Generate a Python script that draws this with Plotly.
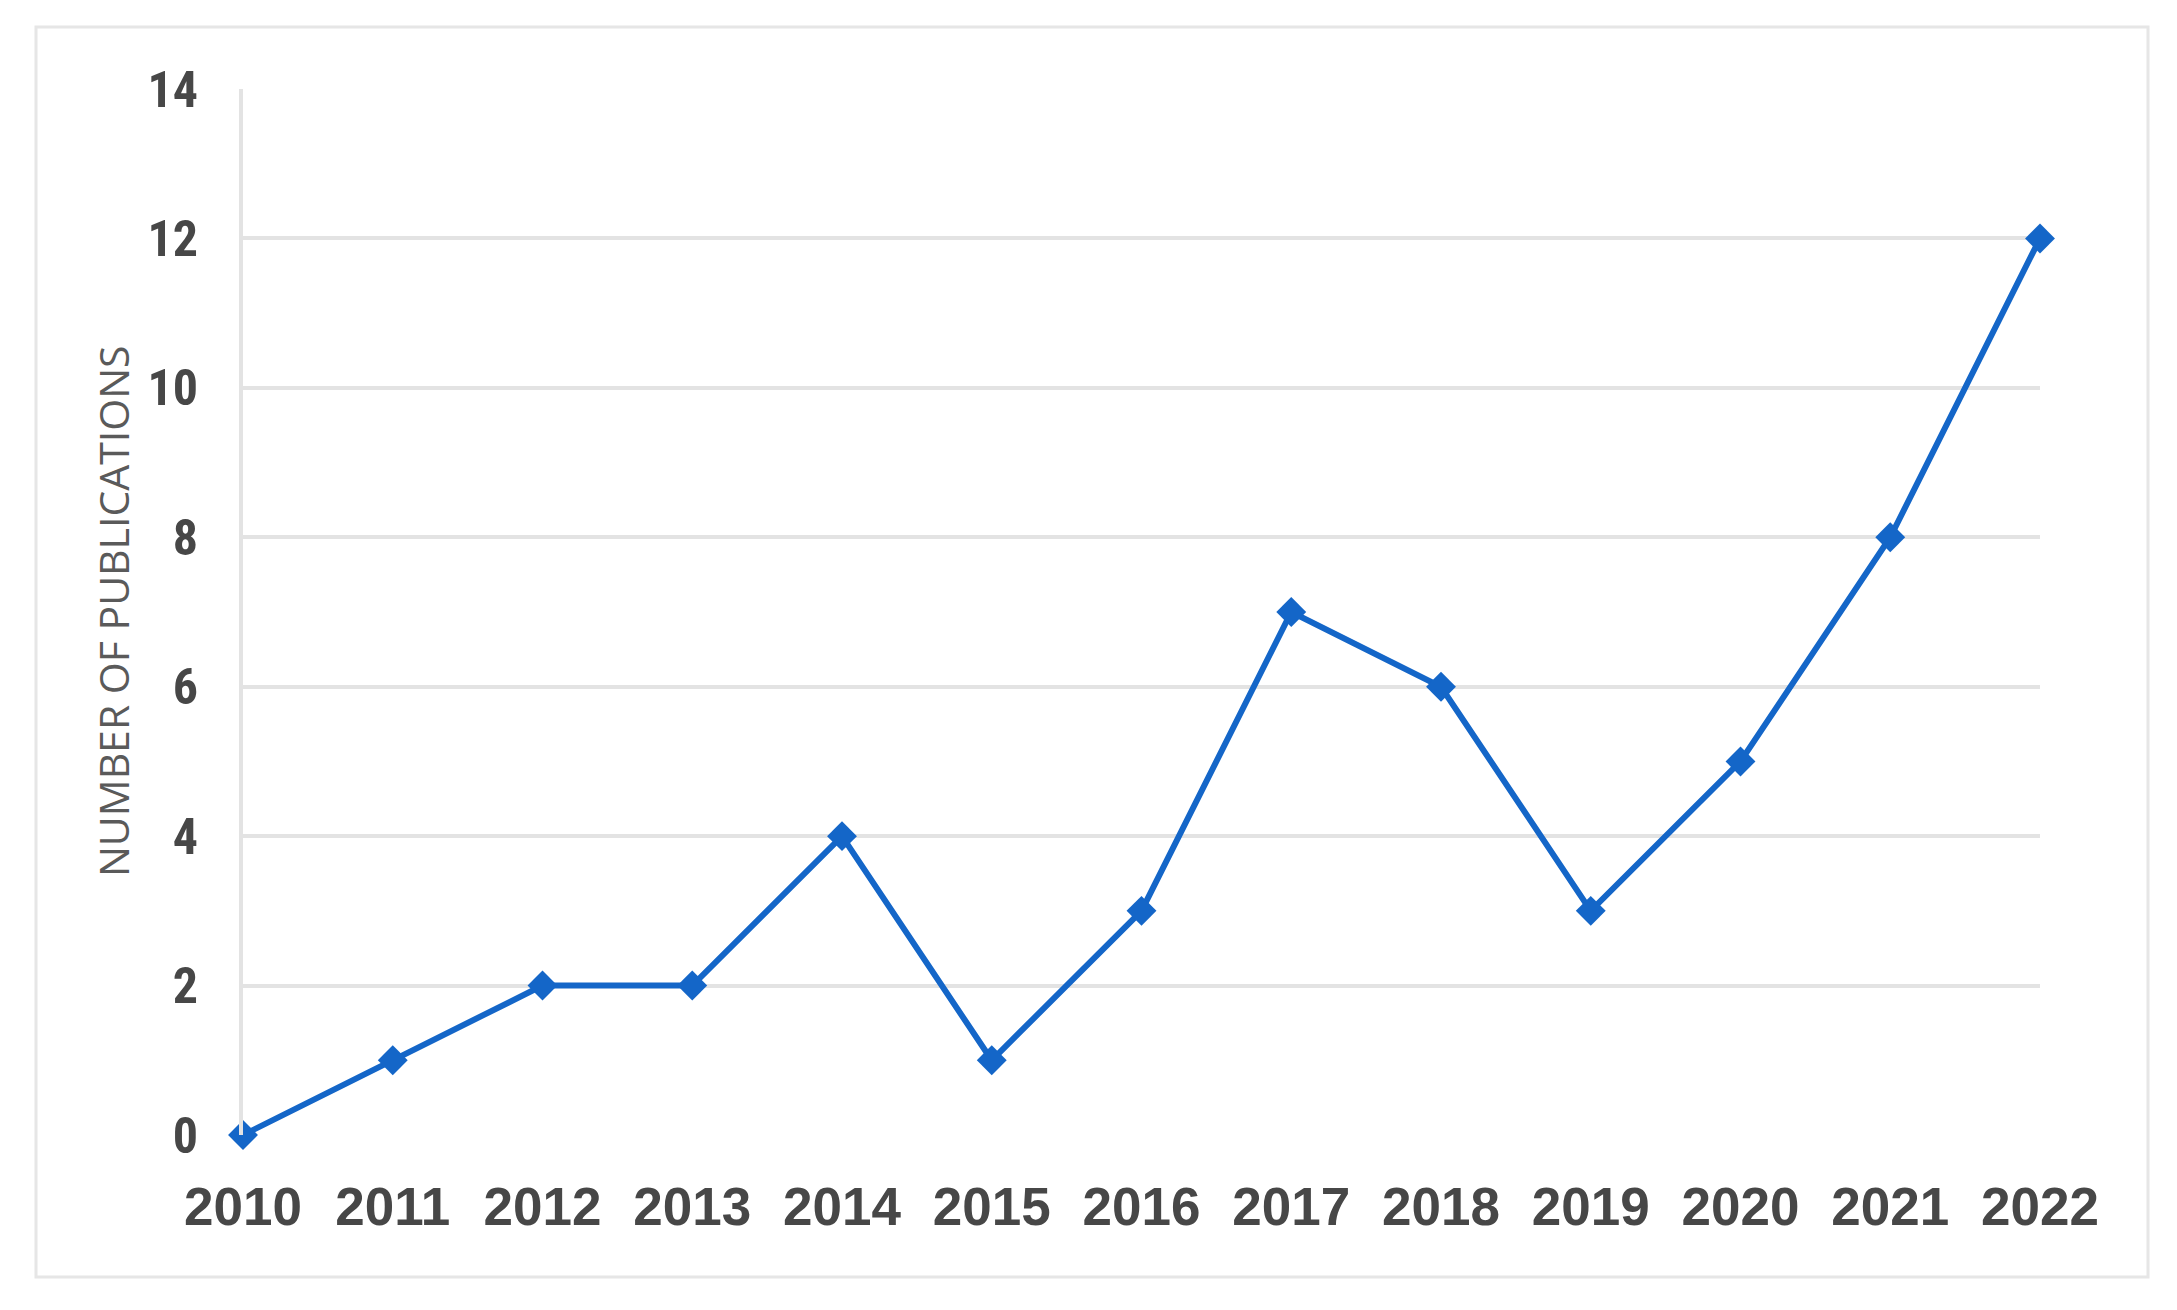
import plotly.graph_objects as go

years = [2010, 2011, 2012, 2013, 2014, 2015, 2016, 2017, 2018, 2019, 2020, 2021, 2022]
publications = [0, 1, 2, 2, 4, 1, 3, 7, 6, 3, 5, 8, 12]
y_ticks = [0, 2, 4, 6, 8, 10, 12, 14]

# page body has an 8px margin, so work in window pixels and shift
OFF = 8
W, H = 2177 - 2 * OFF, 1310 - 2 * OFF
# plot area in window pixels
L, R, T, B = 243, 2040, 89, 1135
PW, PH = R - L, B - T

_BLUE = "#1466c8"
_GRID = "#e3e3e3"
_TEXT = "#474747"


def px_x(p):
    return (p - L) / PW


def px_y(p):
    return (B - p) / PH


fig = go.Figure()
fig.add_trace(
    go.Scatter(
        x=years, y=publications, mode="lines+markers",
        line=dict(color=_BLUE, width=6),
        marker=dict(symbol="diamond", size=23, color=_BLUE),
        cliponaxis=False, showlegend=False,
    )
)

# outer frame of the picture
fig.add_shape(
    type="rect", xref="paper", yref="paper",
    x0=px_x(36), x1=px_x(2148), y0=px_y(1277), y1=px_y(27),
    line=dict(color="#e6e6e6", width=3), layer="below",
)

fig.add_annotation(
    text="NUMBER OF PUBLICATIONS", textangle=-90, showarrow=False,
    xref="paper", yref="paper", x=px_x(113), y=px_y(612),
    xanchor="center", yanchor="middle",
    font=dict(family="Open Sans, sans-serif", size=41, color="#5a5a5a"),
)

fig.update_layout(
    width=W, height=H,
    margin=dict(l=L - OFF, r=W - (R - OFF), t=T - OFF, b=H - (B - OFF)),
    plot_bgcolor="white", paper_bgcolor="white",
    xaxis=dict(
        range=[years[0], years[-1]], tickvals=years,
        showgrid=False, zeroline=False, showline=False,
        ticks="", ticklabelstandoff=36,
        tickfont=dict(family="Liberation Sans, sans-serif", size=53,
                      color=_TEXT, weight="bold"),
    ),
    yaxis=dict(
        range=[0, 14], tickvals=y_ticks,
        showgrid=True, gridcolor=_GRID, gridwidth=4,
        zeroline=False, showline=True, linecolor=_GRID, linewidth=4,
        ticks="", ticklabelstandoff=31,
        tickfont=dict(family="Roboto Condensed, Liberation Sans, sans-serif",
                      size=50, color=_TEXT, weight="bold"),
    ),
)

fig.write_html("out.html")
